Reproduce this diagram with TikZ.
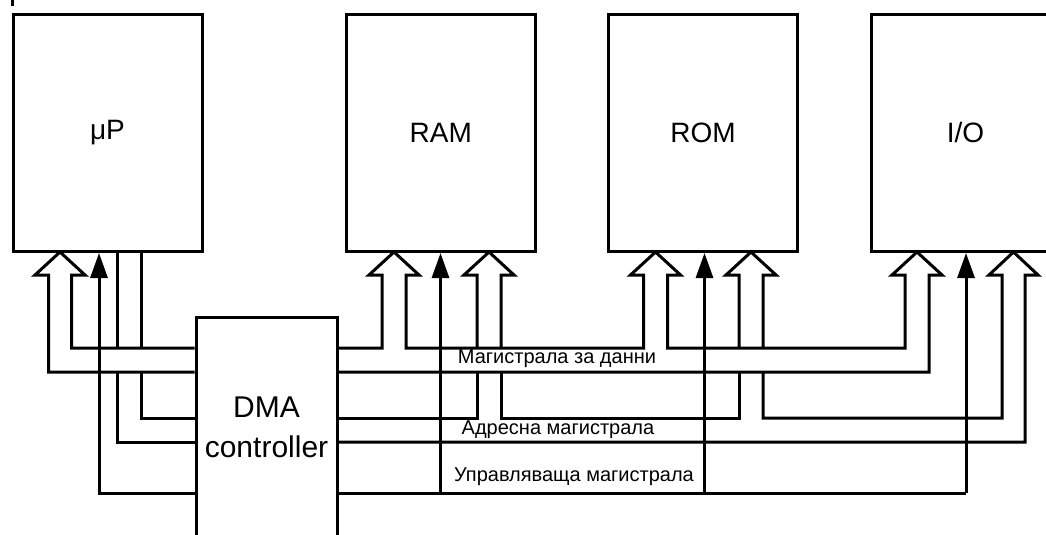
\documentclass[tikz,border=0pt]{standalone}
\usepackage{fontspec}
\setmainfont{Liberation Sans}
\usetikzlibrary{arrows.meta}
\begin{document}
\begin{tikzpicture}[x=1pt,y=-1pt,
  box/.style={draw, line width=3pt, fill=white, inner sep=0pt,
    minimum width=189pt, minimum height=236.5pt, font=\fontsize{28}{32}\selectfont},
  bus/.style={line width=3pt, line join=miter, miter limit=10},
  ctl/.style={line width=3pt, -{Triangle[length=25pt,width=17pt]}},
  lbl/.style={font=\fontsize{20}{24}\selectfont, inner sep=0pt}]
\useasboundingbox (0,0) rectangle (1046,535);
\clip (0,0) rectangle (1046,535);

% boxes
\node[box] (mp)  at (107.5,132.75) {μP};
\node[box] (ram) at (440.75,132.75) {RAM};
\node[box] (rom) at (703,132.75) {ROM};
\node[box] (io)  at (965.5,132.75) {I/O};
\node[box, minimum width=141pt, minimum height=220pt, align=center,
  font=\fontsize{30}{40}\selectfont] (dma) at (266.5,427) {DMA\\controller};

\draw[line width=3pt] (12,0) -- (12,6);

% data bus (hollow pipe)
\draw[bus] (dma.west |- 0,348) -- (71.5,348) -- (71.5,275) -- (85,275) -- (60,252)
  -- (35,275) -- (48.5,275) -- (48.5,372) -- (dma.west |- 0,372);
\draw[bus] (dma.east |- 0,348) -- (382,348) -- (382,275) -- (369,275) -- (394,252)
  -- (419,275) -- (406,275) -- (406,348) -- (643.5,348) -- (643.5,275) -- (630.5,275)
  -- (655.5,252) -- (680.5,275) -- (667.5,275) -- (667.5,348) -- (905,348)
  -- (905,275) -- (892,275) -- (917,252) -- (942,275) -- (929,275) -- (929,372)
  -- (dma.east |- 0,372);

% address bus (hollow pipe, interrupted by the data bus)
\draw[bus] (117.5,251) -- (117.5,348);
\draw[bus] (141.5,251) -- (141.5,348);
\draw[bus] (117.5,372) -- (117.5,442) -- (dma.west |- 0,442);
\draw[bus] (141.5,372) -- (141.5,418) -- (dma.west |- 0,418);
\draw[bus] (dma.east |- 0,418) -- (477,418) -- (477,372);
\draw[bus] (477,348) -- (477,275) -- (464,275) -- (489,252) -- (514,275) -- (501,275) -- (501,348);
\draw[bus] (501,372) -- (501,418) -- (739,418) -- (739,372);
\draw[bus] (739,348) -- (739,275) -- (726,275) -- (751,252) -- (776,275) -- (763,275) -- (763,348);
\draw[bus] (763,372) -- (763,418) -- (1002,418) -- (1002,275) -- (989,275) -- (1013.5,252)
  -- (1038,275) -- (1025,275) -- (1025,442) -- (dma.east |- 0,442);

% control bus
\coordinate (cr) at (966,493);
\draw[ctl] (dma.west |- 0,493) -| (99,253);
\draw[bus] (dma.east |- 0,493) -- (cr);
\draw[ctl] (cr) -- (966,253);
\draw[ctl] (440.5,493) -- (440.5,253);
\draw[ctl] (704.5,493) -- (704.5,253);

% labels
\node[lbl] (ld) at (557,359) {Магистрала за данни};
\node[lbl] (la) at (558,430) {Адресна магистрала};
\node[lbl] (lc) at (574,477) {Управляваща магистрала};
\end{tikzpicture}
\end{document}
